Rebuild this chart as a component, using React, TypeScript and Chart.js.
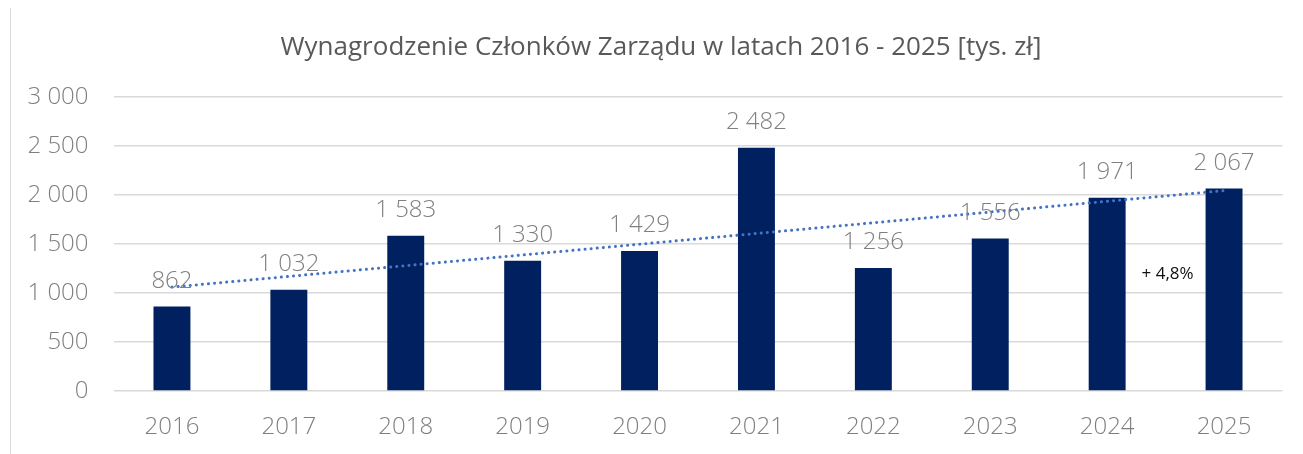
import React, { useEffect, useRef } from 'react';
import { Chart, registerables } from 'chart.js';

Chart.register(...registerables);

const titleText = 'Wynagrodzenie Członków Zarządu w latach 2016 - 2025 [tys. zł]';
const years = ['2016', '2017', '2018', '2019', '2020', '2021', '2022', '2023', '2024', '2025'];
const salaries = [862, 1032, 1583, 1330, 1429, 2482, 1256, 1556, 1971, 2067];
const valueLabels = ['862', '1 032', '1 583', '1 330', '1 429', '2 482', '1 256', '1 556', '1 971', '2 067'];
const trendEnds = [1060, 2045];
const yTickValues = [0, 500, 1000, 1500, 2000, 2500, 3000];
const growthNote = '+ 4,8%';

const FONT = '"Open Sans", "DejaVu Sans", sans-serif';

function fmt(v: number): string {
  if (v >= 1000) {
    return `${Math.floor(v / 1000)} ${String(v % 1000).padStart(3, '0')}`;
  }
  return String(v);
}

const labelsPlugin = {
  id: 'valueLabels',
  afterDatasetsDraw(chart: any) {
    const ctx = chart.ctx;
    const meta = chart.getDatasetMeta(1);
    ctx.save();
    ctx.font = `300 24px ${FONT}`;
    ctx.fillStyle = '#808080';
    ctx.textAlign = 'center';
    ctx.textBaseline = 'alphabetic';
    meta.data.forEach((el: any, i: number) => {
      ctx.fillText(valueLabels[i], el.x, el.y - 18.5);
    });
    // growth note
    const xs = chart.scales.x;
    const ys = chart.scales.y;
    const nx = (xs.getPixelForValue(8) + xs.getPixelForValue(9)) / 2 + 2;
    const ny = ys.getPixelForValue(1190);
    ctx.font = `400 17px ${FONT}`;
    ctx.fillStyle = '#111111';
    ctx.textBaseline = 'middle';
    ctx.fillText(growthNote, nx, ny);
    ctx.restore();
  },
};

const titlePlugin = {
  id: 'centeredTitle',
  afterDraw(chart: any) {
    const ctx = chart.ctx;
    ctx.save();
    ctx.font = `400 26px ${FONT}`;
    ctx.fillStyle = '#595959';
    ctx.textAlign = 'center';
    ctx.textBaseline = 'middle';
    ctx.fillText(titleText, 650, 40);
    ctx.restore();
  },
};

export default function App() {
  const ref = useRef<HTMLCanvasElement | null>(null);

  useEffect(() => {
    if (!ref.current) return;
    const trendData: (number | null)[] = years.map(() => null);
    trendData[0] = trendEnds[0];
    trendData[trendData.length - 1] = trendEnds[1];

    const chart = new Chart(ref.current, {
      type: 'bar',
      data: {
        labels: years,
        datasets: [
          {
            type: 'line',
            label: 'trend',
            data: trendData,
            borderColor: '#4472C4',
            borderWidth: 3,
            borderDash: [0.1, 6],
            borderCapStyle: 'round',
            pointRadius: 0,
            spanGaps: true,
            fill: false,
            order: 0,
          } as any,
          {
            type: 'bar',
            label: 'Wynagrodzenie',
            data: salaries,
            backgroundColor: '#00205F',
            barPercentage: 0.316,
            categoryPercentage: 1,
            order: 1,
          } as any,
        ],
      },
      options: {
        animation: false,
        responsive: false,
        maintainAspectRatio: false,
        layout: { padding: { top: 89, right: 19.5, bottom: 0, left: 0 } },
        plugins: {
          legend: { display: false },
          tooltip: { enabled: false },
          title: { display: false },
        },
        scales: {
          x: {
            grid: { display: false, drawTicks: false },
            border: { display: false },
            ticks: {
              color: '#7f7f7f',
              font: { family: FONT, size: 24, weight: 300 as any, lineHeight: 1.2 },
              padding: 22,
            },
            afterFit: (s: any) => {
              s.height = 62;
            },
          },
          y: {
            min: 0,
            max: 3000,
            afterBuildTicks: (s: any) => {
              s.ticks = yTickValues.map((v) => ({ value: v }));
            },
            grid: { color: '#d9d9d9', lineWidth: 1.5, drawTicks: false },
            border: { display: false },
            ticks: {
              color: '#7f7f7f',
              font: { family: FONT, size: 24, weight: 300 as any },
              padding: 25,
              callback: (v: any) => fmt(Number(v)),
            },
            afterFit: (s: any) => {
              s.width = 102.5;
            },
          },
        },
      },
      plugins: [labelsPlugin, titlePlugin],
    });
    return () => chart.destroy();
  }, []);

  return (
    <div
      style={{
        marginLeft: 2,
        marginTop: -1,
        width: 1292,
        height: 446,
        borderLeft: '1.5px solid #d9d9d9',
        borderTop: '1.5px solid #d9d9d9',
        overflow: 'hidden',
      }}
    >
      <canvas ref={ref} width={1291} height={445} style={{ display: 'block' }} />
    </div>
  );
}
